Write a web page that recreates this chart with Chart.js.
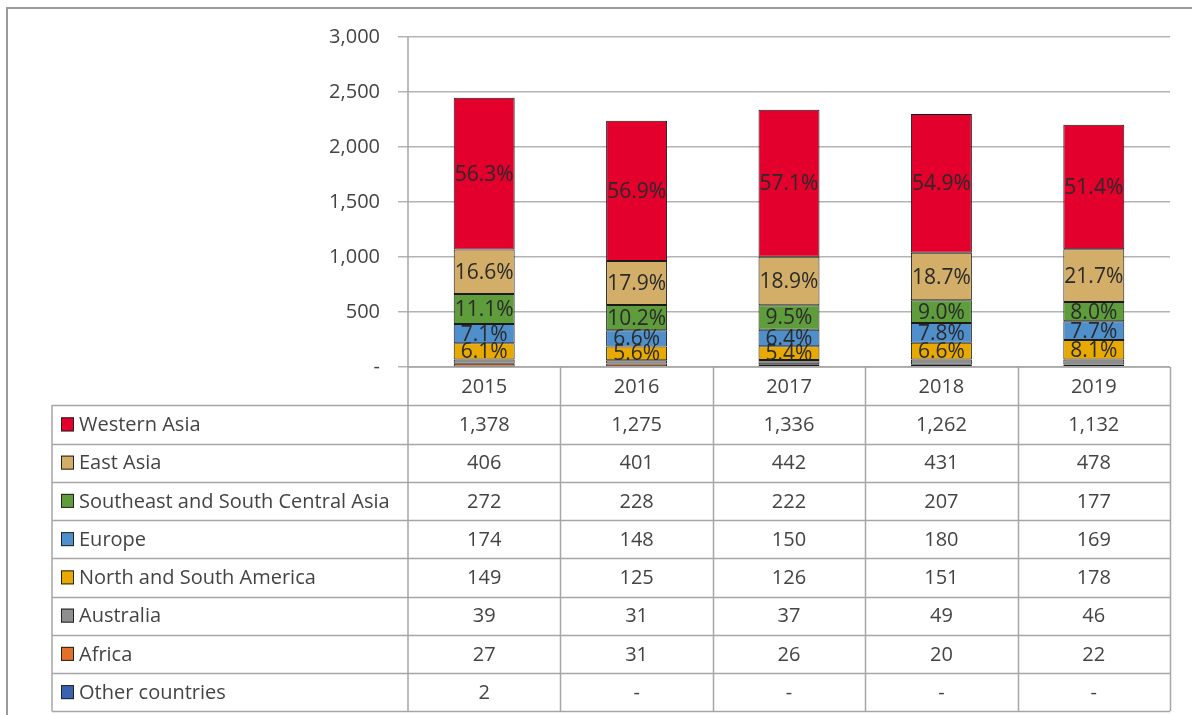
<!DOCTYPE html>
<html>
<head>
<meta charset="utf-8">
<script src="https://cdn.jsdelivr.net/npm/chart.js@4"></script>
<style>
  html, body { margin: 0; padding: 0; background: #fff; }
  #wrap { width: 1192px; height: 715px; position: relative; }
</style>
</head>
<body>
<div id="wrap"><canvas id="c" width="1192" height="715"></canvas></div>
<script>
// Years shown on the category axis and in the table header
const years = ['2015', '2016', '2017', '2018', '2019'];

// Series, listed bottom of the stack to top
const otherCountries = [2, null, null, null, null];
const africa = [27, 31, 26, 20, 22];
const australia = [39, 31, 37, 49, 46];
const americas = [149, 125, 126, 151, 178];
const europe = [174, 148, 150, 180, 169];
const southAsia = [272, 228, 222, 207, 177];
const eastAsia = [406, 401, 442, 431, 478];
const westernAsia = [1378, 1275, 1336, 1262, 1132];

// Value-axis tick labels
const yTickLabels = ['-', '500', '1,000', '1,500', '2,000', '2,500', '3,000'];

const series = [
  { label: 'Other countries', data: otherCountries, color: '#3A62B2', pct: false },
  { label: 'Africa', data: africa, color: '#E0702A', pct: false },
  { label: 'Australia', data: australia, color: '#8E8E8E', pct: false },
  { label: 'North and South America', data: americas, color: '#E8AA00', pct: true },
  { label: 'Europe', data: europe, color: '#4F8FCB', pct: true },
  { label: 'Southeast and South Central Asia', data: southAsia, color: '#5E9C3C', pct: true },
  { label: 'East Asia', data: eastAsia, color: '#D3AE68', pct: true },
  { label: 'Western Asia', data: westernAsia, color: '#E3002D', pct: true }
];

const totals = years.map((_, i) => series.reduce((s, d) => s + (d.data[i] || 0), 0));

const FONT = '"Open Sans", "DejaVu Sans", sans-serif';
const TEXT = '#444';
const LINE = '#a6a6a6';

function fmt(v) {
  if (v === null || v === undefined) return '-';
  return v.toLocaleString('en-US');
}

// Percentage labels centred inside the larger segments
const segmentLabels = {
  id: 'segmentLabels',
  afterDatasetsDraw(chart) {
    const ctx = chart.ctx;
    ctx.save();
    ctx.font = '21px ' + FONT;
    ctx.fillStyle = '#2a2a2a';
    ctx.textAlign = 'center';
    ctx.textBaseline = 'middle';
    chart.data.datasets.forEach((ds, di) => {
      if (!series[di].pct) return;
      const meta = chart.getDatasetMeta(di);
      meta.data.forEach((bar, i) => {
        const v = ds.data[i];
        if (!v) return;
        const p = (v / totals[i] * 100).toFixed(1) + '%';
        const mid = (bar.y + bar.base) / 2;
        ctx.fillText(p, bar.x, mid + 1);
      });
    });
    ctx.restore();
  }
};

// Data table under the plot, with legend keys in the first column
const dataTable = {
  id: 'dataTable',
  beforeDraw(chart) {
    const ctx = chart.ctx;
    ctx.save();
    ctx.fillStyle = '#fff';
    ctx.fillRect(0, 0, chart.width, chart.height);
    // outer frame
    ctx.strokeStyle = '#9a9a9a';
    ctx.lineWidth = 2;
    ctx.beginPath();
    ctx.moveTo(7, chart.height);
    ctx.lineTo(7, 8);
    ctx.lineTo(chart.width, 8);
    ctx.stroke();
    ctx.restore();
  },
  afterDraw(chart) {
    const ctx = chart.ctx;
    const area = chart.chartArea;
    const x = chart.scales.x;
    const left = 52;
    const right = area.right;
    const top = area.bottom;
    const rowH = 38.25;
    const rows = series.slice().reverse();
    const bottom = top + rowH * (rows.length + 1);
    const colW = (area.right - area.left) / years.length;

    ctx.save();
    ctx.strokeStyle = LINE;
    ctx.lineWidth = 1.5;
    ctx.beginPath();
    // header row
    ctx.moveTo(area.left, top); ctx.lineTo(right, top);
    for (let r = 1; r <= rows.length + 1; r++) {
      const y = Math.round(top + rowH * r) + 0.5;
      ctx.moveTo(left, y); ctx.lineTo(right, y);
    }
    ctx.moveTo(left, Math.round(top + rowH)); ctx.lineTo(left, bottom);
    ctx.moveTo(area.left, area.top); ctx.lineTo(area.left, bottom);
    for (let c = 1; c <= years.length; c++) {
      const xx = Math.round(area.left + colW * c) + 0.5;
      ctx.moveTo(xx, top); ctx.lineTo(xx, bottom);
    }
    ctx.stroke();

    ctx.font = '20px ' + FONT;
    ctx.fillStyle = TEXT;
    ctx.textBaseline = 'middle';
    ctx.textAlign = 'center';
    years.forEach((yr, i) => {
      ctx.fillText(yr, x.getPixelForValue(i), top + rowH / 2 + 1);
    });
    rows.forEach((s, r) => {
      const cy = top + rowH * (r + 1.5) + 1;
      // legend key
      ctx.fillStyle = s.color;
      ctx.fillRect(61, cy - 8, 13, 14);
      ctx.strokeStyle = '#222';
      ctx.lineWidth = 1;
      ctx.strokeRect(61.5, cy - 7.5, 12, 13);
      ctx.fillStyle = TEXT;
      ctx.textAlign = 'left';
      ctx.fillText(s.label, 79, cy);
      ctx.textAlign = 'center';
      s.data.forEach((v, i) => {
        ctx.fillText(fmt(v), x.getPixelForValue(i), cy);
      });
    });
    ctx.restore();
  }
};

new Chart(document.getElementById('c'), {
  type: 'bar',
  data: {
    labels: years,
    datasets: series.map(s => ({
      label: s.label,
      data: s.data,
      backgroundColor: s.color,
      borderColor: '#1a1a1a',
      borderWidth: 1,
      borderSkipped: false,
      barPercentage: 0.4,
      categoryPercentage: 1
    }))
  },
  options: {
    responsive: false,
    animation: false,
    devicePixelRatio: 1,
    layout: { padding: { left: 0, right: 22, top: 37, bottom: 348 } },
    plugins: { legend: { display: false }, tooltip: { enabled: false } },
    scales: {
      x: { stacked: true, display: false },
      y: {
        stacked: true,
        min: 0,
        max: 3000,
        afterFit(scale) { scale.width = 408; },
        border: { display: false },
        grid: { color: '#b4b4b4', lineWidth: 1.5, tickLength: 10 },
        ticks: {
          stepSize: 500,
          padding: 18,
          color: TEXT,
          font: { family: FONT, size: 20 },
          callback: (v, i) => yTickLabels[i]
        }
      }
    }
  },
  plugins: [segmentLabels, dataTable]
});
</script>
</body>
</html>
